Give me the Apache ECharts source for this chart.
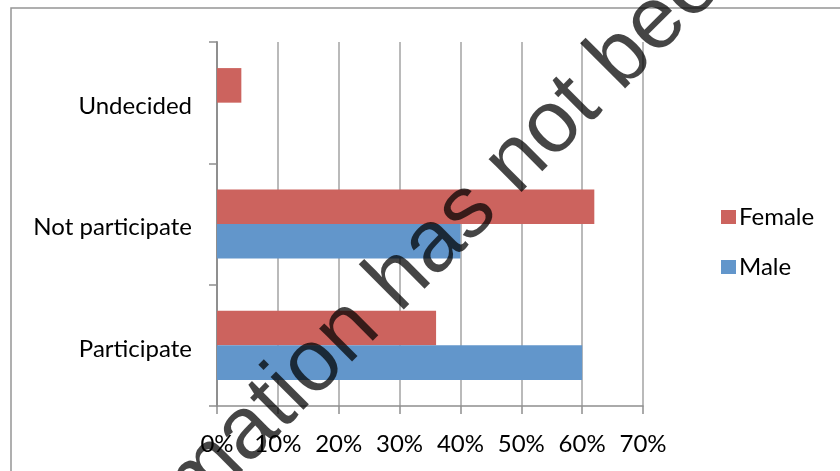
<!DOCTYPE html>
<html>
<head>
<meta charset="utf-8">
<script src="https://cdn.jsdelivr.net/npm/echarts@6/dist/echarts.min.js"></script>
<style>
  html, body { margin: 0; padding: 0; background: #fff; }
  #chart { width: 840px; height: 471px; }
</style>
</head>
<body>
<div id="chart"></div>
<script>
// Survey answers, split by gender (percent of respondents)
const categories = ['Participate', 'Not participate', 'Undecided'];
const femaleValues = [36, 62, 4];
const maleValues = [60, 40, 0];
const xTicks = { min: 0, max: 70, step: 10 };
const seriesNames = ['Female', 'Male'];

const labelFont = 'Lato, "Open Sans", sans-serif';
const femaleColor = '#CC635E';
const maleColor = '#6296CB';

const chart = echarts.init(document.getElementById('chart'), null, { renderer: 'canvas' });

chart.setOption({
  animation: false,
  backgroundColor: '#ffffff',
  grid: { left: 217, right: 197, top: 42, bottom: 65, containLabel: false },
  legend: {
    orient: 'vertical',
    left: 716,
    top: 200,
    itemWidth: 15,
    itemHeight: 14,
    itemGap: 26,
    icon: 'rect',
    data: seriesNames,
    textStyle: { fontFamily: labelFont, fontSize: 24, color: '#000', padding: [0, 0, 0, -2] }
  },
  xAxis: {
    type: 'value',
    min: xTicks.min,
    max: xTicks.max,
    interval: xTicks.step,
    axisLine: { show: true, lineStyle: { color: '#8f8f8f', width: 1.5 } },
    axisTick: { show: true, length: 8, lineStyle: { color: '#8f8f8f', width: 1.5 } },
    splitLine: { show: true, lineStyle: { color: '#a3a3a3', width: 1.5 } },
    axisLabel: {
      formatter: '{value}%',
      fontFamily: labelFont,
      fontSize: 24,
      color: '#000',
      margin: 26
    }
  },
  yAxis: {
    type: 'category',
    data: categories,
    axisLine: { show: true, lineStyle: { color: '#8f8f8f', width: 2 } },
    axisTick: { show: true, length: 8, lineStyle: { color: '#8f8f8f', width: 1.5 } },
    axisLabel: {
      margin: 25,
      formatter: '{cat|{value}}',
      rich: {
        cat: {
          fontFamily: labelFont,
          fontSize: 24,
          color: '#000',
          padding: [7, 0, 0, 0]
        }
      }
    }
  },
  series: [
    {
      name: 'Female',
      type: 'bar',
      data: femaleValues,
      itemStyle: { color: femaleColor },
      barGap: '0%',
      barCategoryGap: '43%'
    },
    {
      name: 'Male',
      type: 'bar',
      data: maleValues,
      itemStyle: { color: maleColor },
      barGap: '0%',
      barCategoryGap: '43%'
    }
  ],
  graphic: [
    {
      type: 'rect',
      z: -1,
      silent: true,
      shape: { x: 11, y: 8, width: 900, height: 520 },
      style: { fill: 'none', stroke: '#959595', lineWidth: 1.5 }
    },
    {
      type: 'text',
      z: 100,
      silent: true,
      x: 398,
      y: 281,
      rotation: 45 * Math.PI / 180,
      style: {
        text: 'Information has not been',
        font: '88px "Liberation Sans", Arial, sans-serif',
        fill: 'rgba(0,0,0,0.73)',
        align: 'center',
        verticalAlign: 'middle'
      }
    }
  ]
});
</script>
</body>
</html>
